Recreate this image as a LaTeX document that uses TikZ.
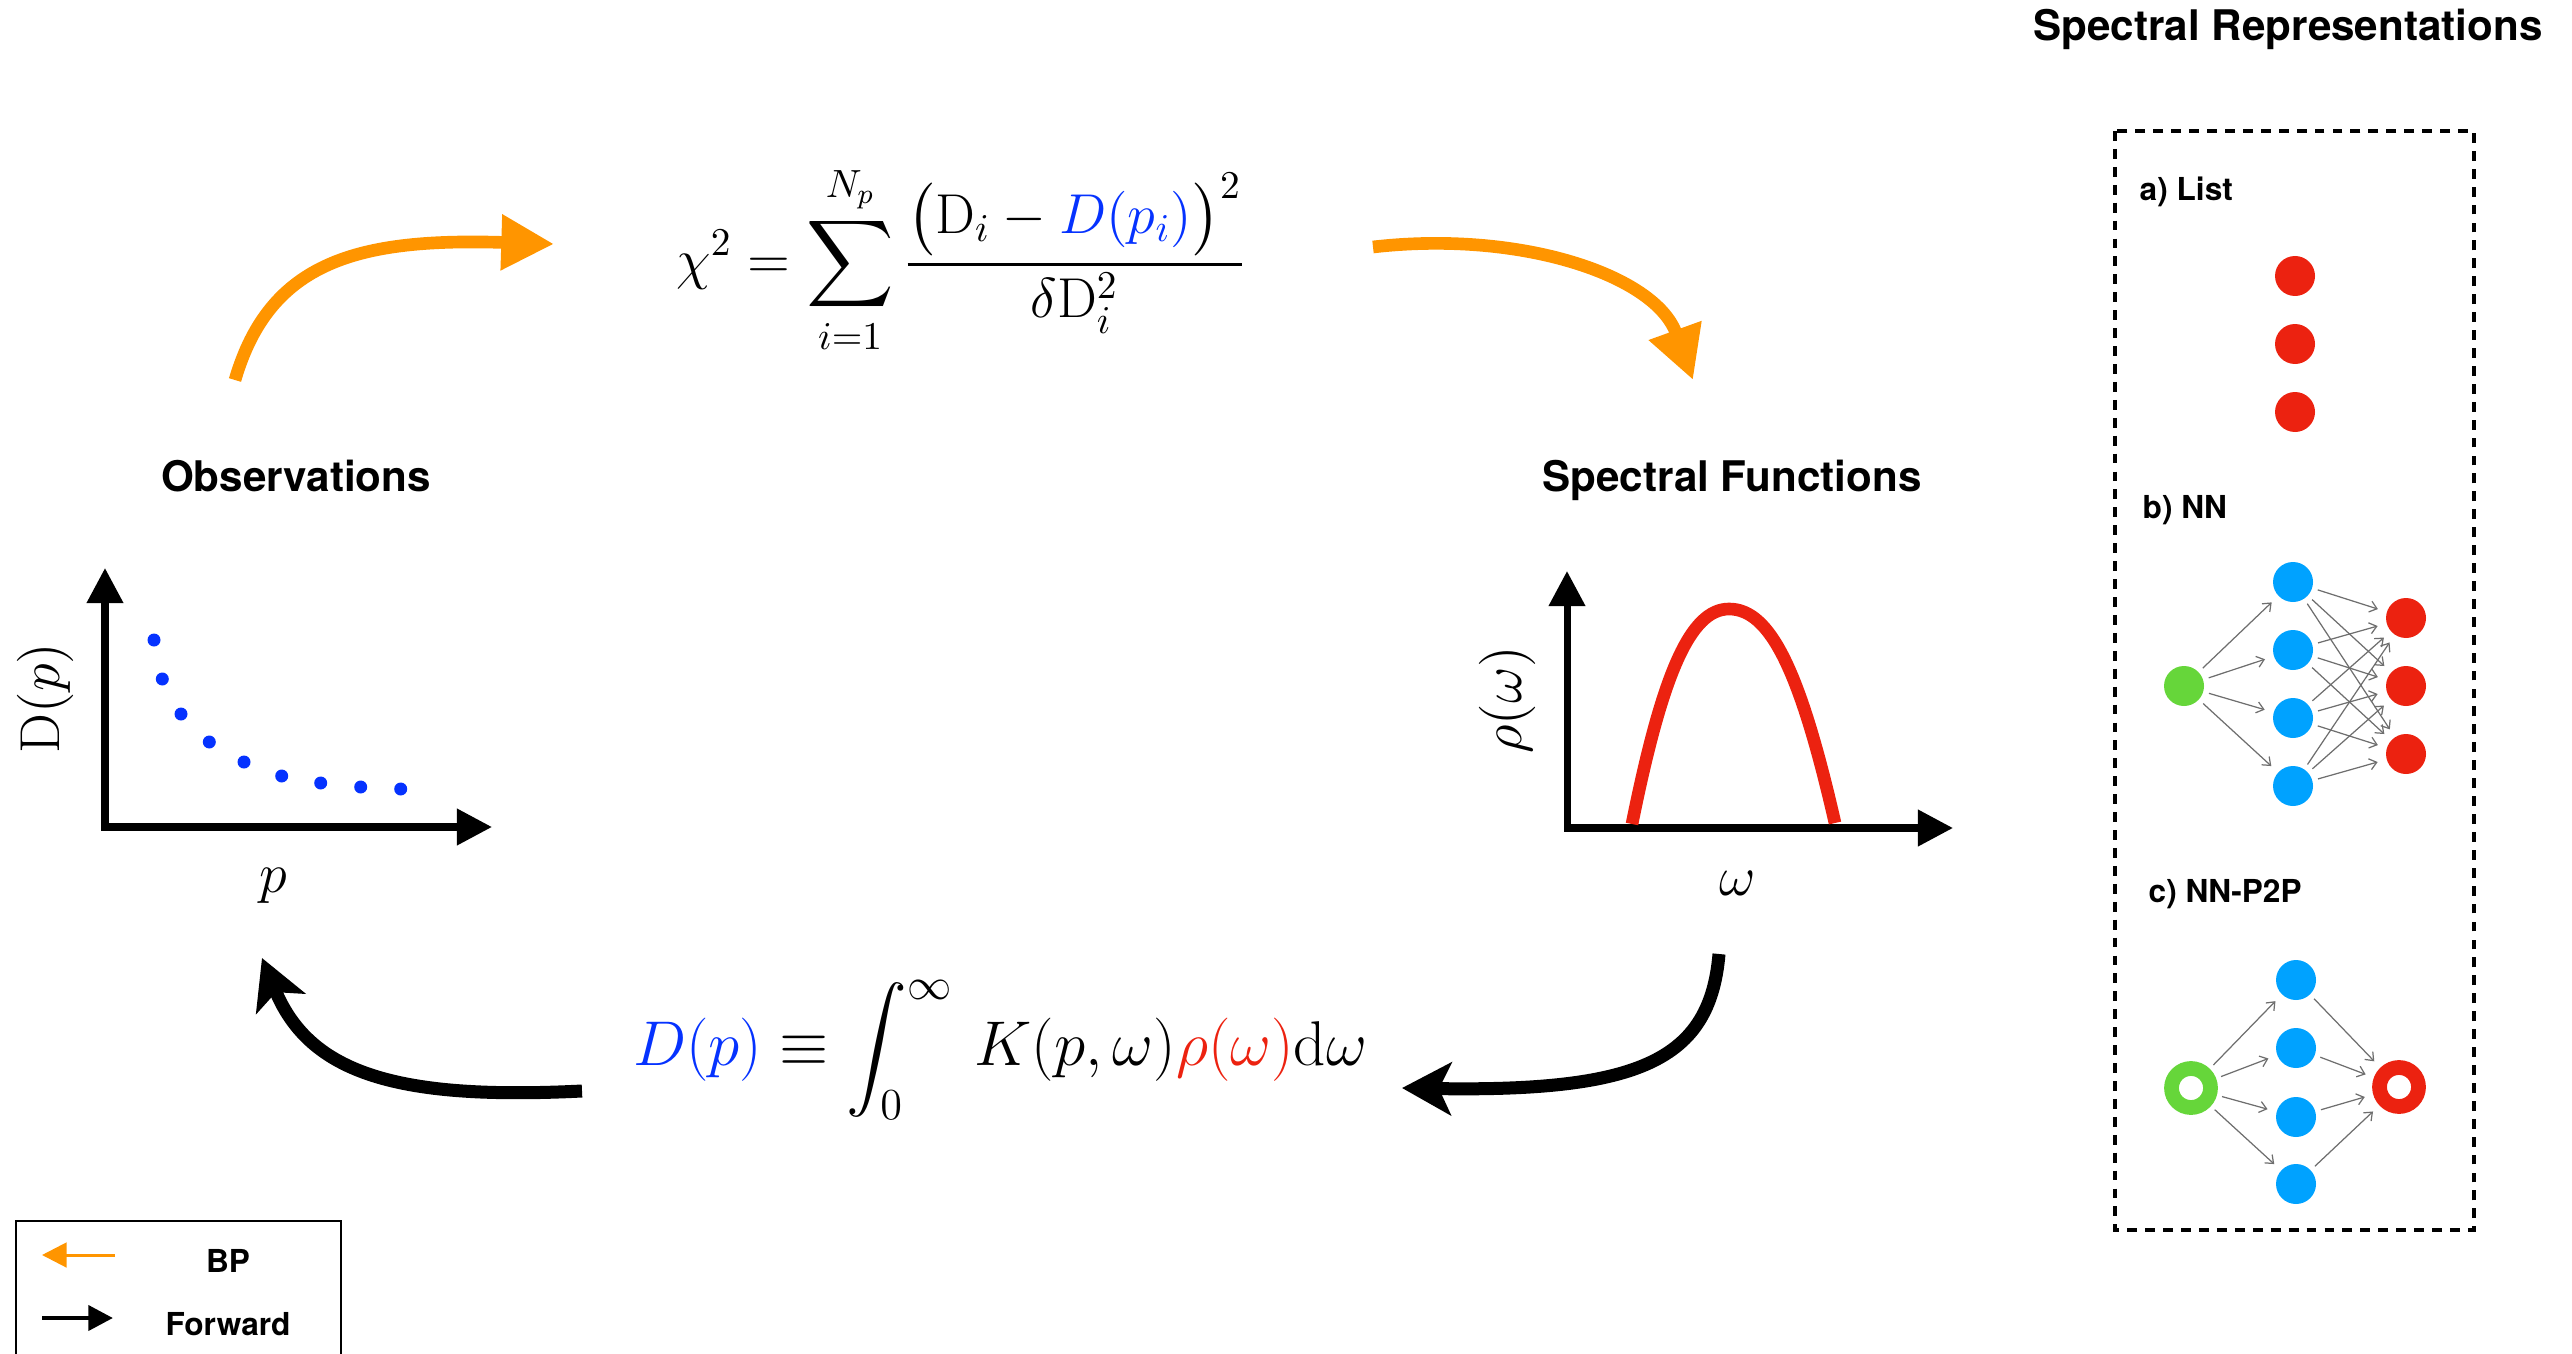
\RequirePackage{fix-cm}
\documentclass[tikz,border=0pt]{standalone}
\usepackage{exscale}
\usepackage{fontspec}
\newfontfamily\helv{TeX Gyre Heros}
\usetikzlibrary{
  positioning,
  arrows.meta,
  calc
}

\definecolor{bporange}{RGB}{255,149,0}
\definecolor{dotblue}{RGB}{5,50,255}
\definecolor{specred}{RGB}{236,34,16}
\definecolor{nnblue}{RGB}{0,162,255}
\definecolor{nngreen}{RGB}{102,214,58}
\definecolor{edgegray}{RGB}{110,110,110}

\tikzset{
  headline/.style={font=\helv\bfseries\fontsize{12}{14}\selectfont, anchor=base},
  sublabel/.style={font=\helv\bfseries\fontsize{9}{11}\selectfont, anchor=base west},
  legtext/.style={font=\helv\bfseries\fontsize{9}{11}\selectfont, anchor=base},
  bigmath/.style={font=\fontsize{#1}{#1}\selectfont},
  axisline/.style={line width=2pt, {Triangle[length=10pt,width=10pt]}-{Triangle[length=10pt,width=10pt]}},
  bparrow/.style={bporange, line width=3.6pt, -{Triangle[length=15pt,width=15pt]}},
  fwdarrow/.style={black, line width=3.7pt, -{Stealth[length=14pt,width=15pt,inset=3.5pt]}},
  neuron/.style={circle, minimum size=4mm, inner sep=0pt},
  ringnode/.style={circle, minimum size=3.9mm, inner sep=0pt, line width=4.2pt},
  nnedge/.style={edgegray, line width=0.35pt, -{Straight Barb[length=2pt,width=3.2pt]}, shorten >=2.5pt, shorten <=1.5pt},
  repbox/.style={line width=1.3pt, dash pattern=on 2.8pt off 2.3pt}
}

\begin{document}
\begin{tikzpicture}[every node/.style={inner sep=0pt}]
\useasboundingbox (0,0) rectangle (25.72,-13.54);

% ========== titles ==========
\node[headline] (obsTitle) at (2.96,-4.91) {Observations};
\node[headline] (specTitle) at (17.32,-4.91) {Spectral Functions};
\node[headline] (repTitle) at (22.88,-0.41) {Spectral Representations};

% ========== chi^2 and forward formula ==========
\node[bigmath=16] (chiEq) at (9.61,-2.60)
  {$\displaystyle \chi^2 = \sum_{i=1}^{N_p} \frac{\bigl(\mathrm{D}_i - {\color{dotblue}D(p_i)}\bigr)^2}{\delta\mathrm{D}_i^2}$};
\node[bigmath=18] (intEq) at (10.0,-10.5)
  {$\displaystyle {\color{dotblue}D(p)} \equiv \int_0^\infty \, K(p,\omega){\color{specred}\rho(\omega)}\mathrm{d}\omega$};

% ========== observations plot ==========
\coordinate (obsY) at (1.05,-5.68);
\coordinate (obsX) at (4.92,-8.27);
\draw[axisline] (obsY) |- (obsX);
\foreach \x/\y in {1.54/6.40, 1.623/6.79, 1.81/7.14, 2.093/7.42, 2.44/7.62, 2.817/7.76, 3.207/7.83, 3.607/7.87, 4.007/7.89}
  \fill[dotblue] (\x,-\y) circle (0.065);
\node[bigmath=16, rotate=90] (obsYlab) at (0.45,-6.98) {$\mathrm{D}(p)$};
\node[bigmath=16] (obsXlab) at (2.73,-8.86) {$p$};

% ========== spectral function plot ==========
\coordinate (specY) at (15.67,-5.71);
\coordinate (specX) at (19.53,-8.28);
\draw[axisline] (specY) |- (specX);
\draw[specred, line width=3.6pt] (16.32,-8.24) .. controls (16.62,-6.75) and (16.9,-6.09) .. (17.29,-6.09)
  .. controls (17.7,-6.09) and (18.0,-6.7) .. (18.35,-8.23);
\node[bigmath=16, rotate=90] (specYlab) at (15.07,-7.00) {$\rho(\omega)$};
\node[bigmath=16] (specXlab) at (17.38,-8.83) {$\omega$};

% ========== BP arrows (orange) ==========
\coordinate (bpA1) at (2.35,-3.80);
\coordinate (bpA2) at (5.54,-2.44);
\draw[bparrow] (bpA1) .. controls (2.7,-2.6) and (3.6,-2.38) .. (bpA2);
\coordinate (bpB1) at (13.73,-2.47);
\coordinate (bpB2) at (16.93,-3.80);
\draw[bparrow] (bpB1) .. controls (15.2,-2.3) and (16.55,-2.75) .. (bpB2);

% ========== forward arrows (black) ==========
\coordinate (fwA1) at (17.19,-9.54);
\coordinate (fwA2) at (14.02,-10.88);
\draw[fwdarrow] (fwA1) .. controls (17.1,-10.6) and (16.4,-10.92) .. (fwA2);
\coordinate (fwB1) at (5.82,-10.91);
\coordinate (fwB2) at (2.62,-9.58);
\draw[fwdarrow] (fwB1) .. controls (4.0,-11.0) and (3.1,-10.75) .. (fwB2);

% ========== spectral representations ==========
\draw[repbox] (21.15,-1.31) rectangle (24.74,-12.30);

% a) List
\node[sublabel] (listLab) at (21.39,-2.00) {a) List};
\foreach \k/\y in {1/2.76, 2/3.44, 3/4.12}
  \node[neuron, fill=specred] (list\k) at (22.95,-\y) {};

% b) NN
\node[sublabel] (nnLab) at (21.42,-5.18) {b) NN};
\node[neuron, fill=nngreen] (nnIn) at (21.84,-6.86) {};
\foreach \k/\y in {1/5.82, 2/6.50, 3/7.18, 4/7.86}
  \node[neuron, fill=nnblue] (nnH\k) at (22.93,-\y) {};
\foreach \k/\y in {1/6.18, 2/6.86, 3/7.54}
  \node[neuron, fill=specred] (nnOut\k) at (24.06,-\y) {};
\foreach \i in {1,...,4} {
  \draw[nnedge] (nnIn) -- (nnH\i);
  \foreach \j in {1,2,3}
    \draw[nnedge] (nnH\i) -- (nnOut\j);
}

% c) NN-P2P
\node[sublabel] (ppLab) at (21.48,-9.02) {c) NN-P2P};
\node[ringnode, draw=nngreen] (ppIn) at (21.91,-10.88) {};
\node[ringnode, draw=specred] (ppOut) at (23.99,-10.87) {};
\foreach \k/\y in {1/9.80, 2/10.48, 3/11.17, 4/11.84} {
  \node[neuron, fill=nnblue] (ppH\k) at (22.96,-\y) {};
  \draw[nnedge] (ppIn) -- (ppH\k);
  \draw[nnedge] (ppH\k) -- (ppOut);
}

% ========== legend ==========
\draw[line width=0.75pt] (0.16,-13.70) |- (3.41,-12.21) -- (3.41,-13.70);
\coordinate (bpS) at (1.15,-12.55);
\coordinate (bpE) at (0.42,-12.55);
\draw[bporange, line width=0.85pt, -{Triangle[length=7pt,width=7pt]}] (bpS) -- (bpE);
\node[legtext] (bpTxt) at (2.28,-12.72) {BP};
\coordinate (fwS) at (0.42,-13.18);
\coordinate (fwE) at (1.13,-13.18);
\draw[line width=1.4pt, -{Triangle[length=7pt,width=7pt]}] (fwS) -- (fwE);
\node[legtext] (fwTxt) at (2.28,-13.35) {Forward};

\end{tikzpicture}
\end{document}
